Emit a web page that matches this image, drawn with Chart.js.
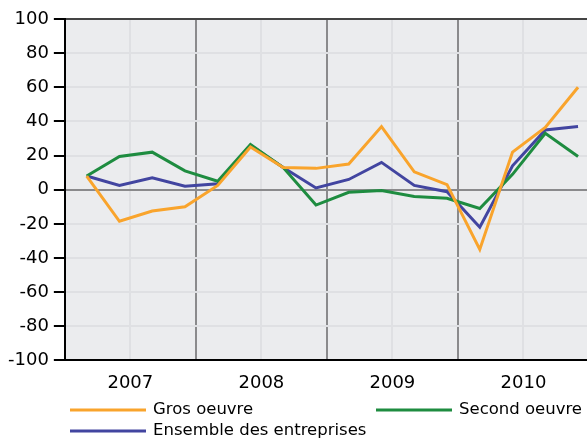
<!DOCTYPE html>
<html lang="fr">
<head>
<meta charset="UTF-8">
<title>Gros oeuvre / Second oeuvre</title>
<style>
  body { margin: 0; background: #fff; }
  #wrap { width: 587px; height: 442px; }
</style>
</head>
<body>
<div id="wrap"><canvas id="graphique" width="587" height="442"></canvas></div>
<script src="https://cdn.jsdelivr.net/npm/chart.js"></script>
<script>
// trimestres 2007T1 .. 2010T4
const trimestres = ['2007T1','2007T2','2007T3','2007T4','2008T1','2008T2','2008T3','2008T4',
                    '2009T1','2009T2','2009T3','2009T4','2010T1','2010T2','2010T3','2010T4']
const annees = [2007, 2008, 2009, 2010]
const grosOeuvre = [8, -18.5, -12.5, -10, 2.5, 25, 13, 12.5, 15, 37, 10.5, 3, -35, 22, 36.5, 60]
const secondOeuvre = [8, 19.5, 22, 11, 5, 26.5, 13, -9, -1.5, -0.5, -4, -5, -11, 9, 33, 19.5]
const ensemble = [8, 2.5, 7, 2, 3.5, 26, 13, 1, 6, 16, 2.5, -1.2, -22, 14, 35, 37]
const ticksY = [-100, -80, -60, -40, -20, 0, 20, 40, 60, 80, 100]

// position d'un trimestre sur l'axe (milieu du trimestre, mois central)
function posTrimestre(t) {
    const an = parseInt(t.slice(0, 4))
    const q = parseInt(t.slice(5))
    return an + (q - 1) / 4 + 1 / 6
}
const points = serie => serie.map((v, i) => ({ x: posTrimestre(trimestres[i]), y: v }))

const fondZone = {
    id: 'fondZone',
    beforeDraw(chart) {
        const { ctx, chartArea: a } = chart
        ctx.save()
        ctx.fillStyle = '#ebecee'
        ctx.fillRect(a.left, a.top, a.right - a.left, a.bottom - a.top)
        ctx.restore()
    }
}

const legende = {
    id: 'legende',
    afterDraw(chart) {
        const ctx = chart.ctx
        const items = [
            { ds: 0, x: 70, y: 410 },
            { ds: 1, x: 376, y: 410 },
            { ds: 2, x: 70, y: 431 }
        ]
        ctx.save()
        ctx.font = '16.5px "DejaVu Sans"'
        ctx.textBaseline = 'middle'
        ctx.fillStyle = '#000'
        items.forEach(it => {
            const ds = chart.data.datasets[it.ds]
            ctx.strokeStyle = ds.borderColor
            ctx.lineWidth = 3
            ctx.beginPath()
            ctx.moveTo(it.x, it.y)
            ctx.lineTo(it.x + 76, it.y)
            ctx.stroke()
            ctx.fillText(ds.label, it.x + 83, it.y)
        })
        ctx.restore()
    }
}

new Chart(document.getElementById('graphique'), {
    type: 'line',
    data: {
        datasets: [
            { label: 'Gros oeuvre', data: points(grosOeuvre), borderColor: '#f9a42c', borderWidth: 3, pointRadius: 0 },
            { label: 'Second oeuvre', data: points(secondOeuvre), borderColor: '#1e8c40', borderWidth: 3, pointRadius: 0 },
            { label: 'Ensemble des entreprises', data: points(ensemble), borderColor: '#4245a0', borderWidth: 3, pointRadius: 0 }
        ]
    },
    options: {
        responsive: false,
        animation: false,
        layout: { padding: { left: 3, right: 0, top: 19, bottom: 36 } },
        plugins: { legend: { display: false }, tooltip: { enabled: false } },
        scales: {
            x: {
                type: 'linear',
                min: 2007,
                max: 2010.985,
                afterBuildTicks: scale => {
                    const t = []
                    annees.forEach(a => { t.push({ value: a }); t.push({ value: a + 0.5 }) })
                    scale.ticks = t
                },
                ticks: {
                    autoSkip: false,
                    maxRotation: 0,
                    padding: 12,
                    color: '#000',
                    font: { family: 'DejaVu Sans', size: 18 },
                    callback: v => (v % 1 === 0.5 ? String(Math.floor(v)) : '')
                },
                grid: {
                    drawTicks: false,
                    lineWidth: 2,
                    color: c => (c.tick && c.tick.value % 1 === 0 ? '#8a8a8c' : '#dfe0e3')
                },
                border: { display: true, color: '#000', width: 2 }
            },
            y: {
                min: -100,
                max: 100,
                afterBuildTicks: scale => { scale.ticks = ticksY.map(v => ({ value: v })) },
                ticks: {
                    padding: 5,
                    color: '#000',
                    font: { family: 'DejaVu Sans', size: 18 }
                },
                grid: {
                    tickLength: 11,
                    tickColor: '#000',
                    lineWidth: 2,
                    color: c => {
                        if (!c.tick) return '#dfe0e3'
                        if (c.tick.value === 100) return '#444'
                        if (c.tick.value === 0) return '#8a8a8c'
                        return '#dfe0e3'
                    }
                },
                border: { display: true, color: '#000', width: 2 }
            }
        }
    },
    plugins: [fondZone, legende]
})
</script>
</body>
</html>
